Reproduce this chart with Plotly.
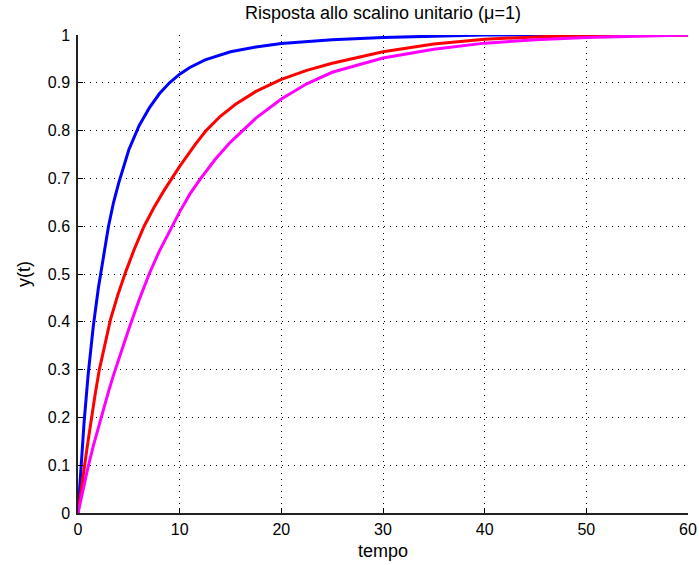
import plotly.graph_objects as go

# Data
t_blue = [0, 0.25, 0.6, 1.0, 1.5, 2.0, 2.5, 3.0, 3.5, 4.0, 5.0, 6.0, 7.0, 8.0, 9.0, 10, 11, 12.5, 15, 17.5, 20, 25, 30, 35, 40, 60]
y_blue = [0, 0.09, 0.19, 0.29, 0.39, 0.47, 0.54, 0.6, 0.65, 0.69, 0.76, 0.81, 0.847, 0.877, 0.9, 0.918, 0.932, 0.948, 0.965, 0.975, 0.982, 0.990, 0.995, 0.998, 1.0, 1.0]

t_red = [0, 0.3, 0.65, 1.0, 1.3, 1.7, 2.1, 2.6, 3.2, 3.9, 4.7, 5.5, 6.5, 7.5, 8.5, 10, 11.5, 12.6, 14, 15.5, 17.5, 20, 22.5, 25, 30, 35, 40, 45, 50, 55, 60]
y_red = [0, 0.05, 0.1, 0.152, 0.196, 0.25, 0.3, 0.35, 0.405, 0.455, 0.505, 0.55, 0.6, 0.64, 0.676, 0.725, 0.77, 0.8, 0.83, 0.855, 0.882, 0.907, 0.926, 0.941, 0.965, 0.981, 0.991, 0.996, 0.999, 1.0, 1.0]

t_mag = [0, 0.5, 1.0, 1.5, 2.0, 2.5, 3.0, 3.5, 4.0, 5.0, 6.0, 7.0, 8.0, 9.0, 10, 11, 12, 13.5, 15, 17.5, 20, 22.5, 25, 30, 35, 40, 45, 50, 55, 60]
y_mag = [0, 0.05, 0.097, 0.14, 0.18, 0.218, 0.254, 0.289, 0.322, 0.385, 0.445, 0.5, 0.548, 0.59, 0.63, 0.667, 0.698, 0.74, 0.776, 0.826, 0.866, 0.898, 0.922, 0.952, 0.970, 0.983, 0.990, 0.995, 0.998, 1.0]

x_ticks = [0, 10, 20, 30, 40, 50, 60]
y_ticks = [0, 0.1, 0.2, 0.3, 0.4, 0.5, 0.6, 0.7, 0.8, 0.9, 1]
y_tick_labels = ["0", "0.1", "0.2", "0.3", "0.4", "0.5", "0.6", "0.7", "0.8", "0.9", "1"]

title_text = "Risposta allo scalino unitario (\u03bc=1)"
x_label = "tempo"
y_label = "y(t)"

FONT = "Liberation Sans, Arial, sans-serif"

fig = go.Figure()
for t, y, c in [(t_blue, y_blue, "#0000FF"), (t_red, y_red, "#FF0000"), (t_mag, y_mag, "#FF00FF")]:
    fig.add_trace(go.Scatter(x=t, y=y, mode="lines", line=dict(color=c, width=3),
                             showlegend=False, hoverinfo="skip"))

axis_common = dict(
    showgrid=True, gridcolor="black", griddash="1px,5px", gridwidth=1,
    showline=True, linecolor="#222222", linewidth=1.5,
    ticks="inside", ticklen=5, tickcolor="black",
    zeroline=False, mirror=False, automargin=False,
    tickfont=dict(family=FONT, size=16, color="black"),
)

fig.update_layout(
    width=699, height=565,
    margin=dict(l=78, r=11, t=35, b=52),
    paper_bgcolor="white", plot_bgcolor="white",
    font=dict(family=FONT, size=16, color="black"),
    title=dict(text=title_text, x=0.5, xref="paper", y=1, yref="container", yanchor="top",
               pad=dict(t=6), font=dict(size=18, color="black")),
    xaxis=dict(range=[0, 60], tickvals=x_ticks, ticklabelstandoff=1,
               title=dict(text=x_label, standoff=7, font=dict(size=18)), **axis_common),
    yaxis=dict(range=[0, 1], tickvals=y_ticks, ticktext=y_tick_labels, ticklabelstandoff=3,
               title=dict(text=y_label, standoff=12, font=dict(size=18)), **axis_common),
)

# remove the page's default body margin and scrollbars so the figure fills the window
fig.write_html("out.html", config={"displayModeBar": False},
               post_script="document.body.style.margin='0';document.body.style.overflow='hidden';")
